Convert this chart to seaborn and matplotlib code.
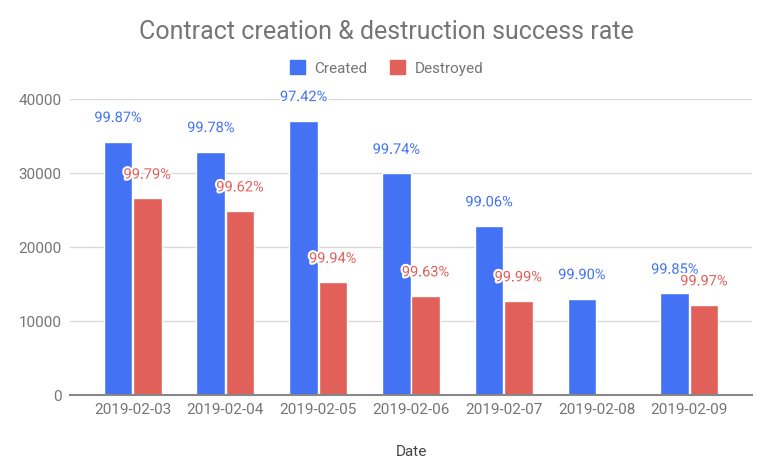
import pandas as pd
import numpy as np
import seaborn as sns
import matplotlib.pyplot as plt
import matplotlib.patheffects as pe

# data
dates = ['2019-02-03', '2019-02-04', '2019-02-05', '2019-02-06',
         '2019-02-07', '2019-02-08', '2019-02-09']
created = [34240, 32880, 37070, 29950, 22840, 13010, 13740]
destroyed = [26580, 24860, 15220, 13380, 12700, 0, 12160]
created_rate = ['99.87%', '99.78%', '97.42%', '99.74%', '99.06%', '99.90%', '99.85%']
destroyed_rate = ['99.79%', '99.62%', '99.94%', '99.63%', '99.99%', None, '99.97%']

blue = '#4372f4'
red = '#e1605a'
grey = '#757575'

df = pd.DataFrame({'Date': dates * 2,
                   'Count': created + destroyed,
                   'Type': ['Created'] * 7 + ['Destroyed'] * 7})

sns.set_theme(style='white')
plt.rcParams['font.family'] = ['Roboto', 'DejaVu Sans']

fig = plt.figure(figsize=(7.73, 4.73), dpi=100)
ax = fig.add_axes([70 / 773, 1 - 395 / 473, 682 / 773, 296 / 473])

sns.barplot(data=df, x='Date', y='Count', hue='Type',
            palette={'Created': blue, 'Destroyed': red},
            width=0.63, gap=0.02, saturation=1, ax=ax, legend=False)

# percentage labels above each bar
for cont, rates, col in zip(ax.containers, [created_rate, destroyed_rate], [blue, red]):
    for bar, r in zip(cont, rates):
        if r is None:
            continue
        x = bar.get_x() + bar.get_width() / 2
        ax.annotate(r, (x, bar.get_height()), xytext=(0, 17), textcoords='offset points',
                    ha='center', va='center', color=col, fontsize=10.5,
                    path_effects=[pe.withStroke(linewidth=3, foreground='white')])

ax.set_ylim(0, 40000)
ax.set_xlim(-0.675, 6.675)
ax.set_yticks([0, 10000, 20000, 30000, 40000])
ax.yaxis.grid(True, color='#d9d9d9', linewidth=1)
ax.set_axisbelow(True)
for s in ['top', 'right', 'left']:
    ax.spines[s].set_visible(False)
ax.spines['bottom'].set_color('#888888')
ax.spines['bottom'].set_linewidth(1.5)
ax.spines['bottom'].set_zorder(3)
ax.tick_params(axis='both', length=0, labelsize=11, labelcolor=grey)
ax.tick_params(axis='y', pad=6)
ax.tick_params(axis='x', pad=6)
ax.set_ylabel('')
ax.set_xlabel('Date', fontsize=11, color='#444444', labelpad=20)

fig.text(0.5, 1 - 32 / 473, 'Contract creation & destruction success rate',
         ha='center', va='center', fontsize=18, color=grey)

handles = [plt.Rectangle((0, 0), 1, 1, color=blue), plt.Rectangle((0, 0), 1, 1, color=red)]
fig.legend(handles, ['Created', 'Destroyed'], loc='center', ncol=2,
           bbox_to_anchor=(0.5, 1 - 68 / 473), frameon=False, fontsize=11,
           labelcolor=grey, handlelength=1.0, handleheight=1.0, columnspacing=1.5,
           handletextpad=0.6)

fig.savefig('out.png', dpi=100)
